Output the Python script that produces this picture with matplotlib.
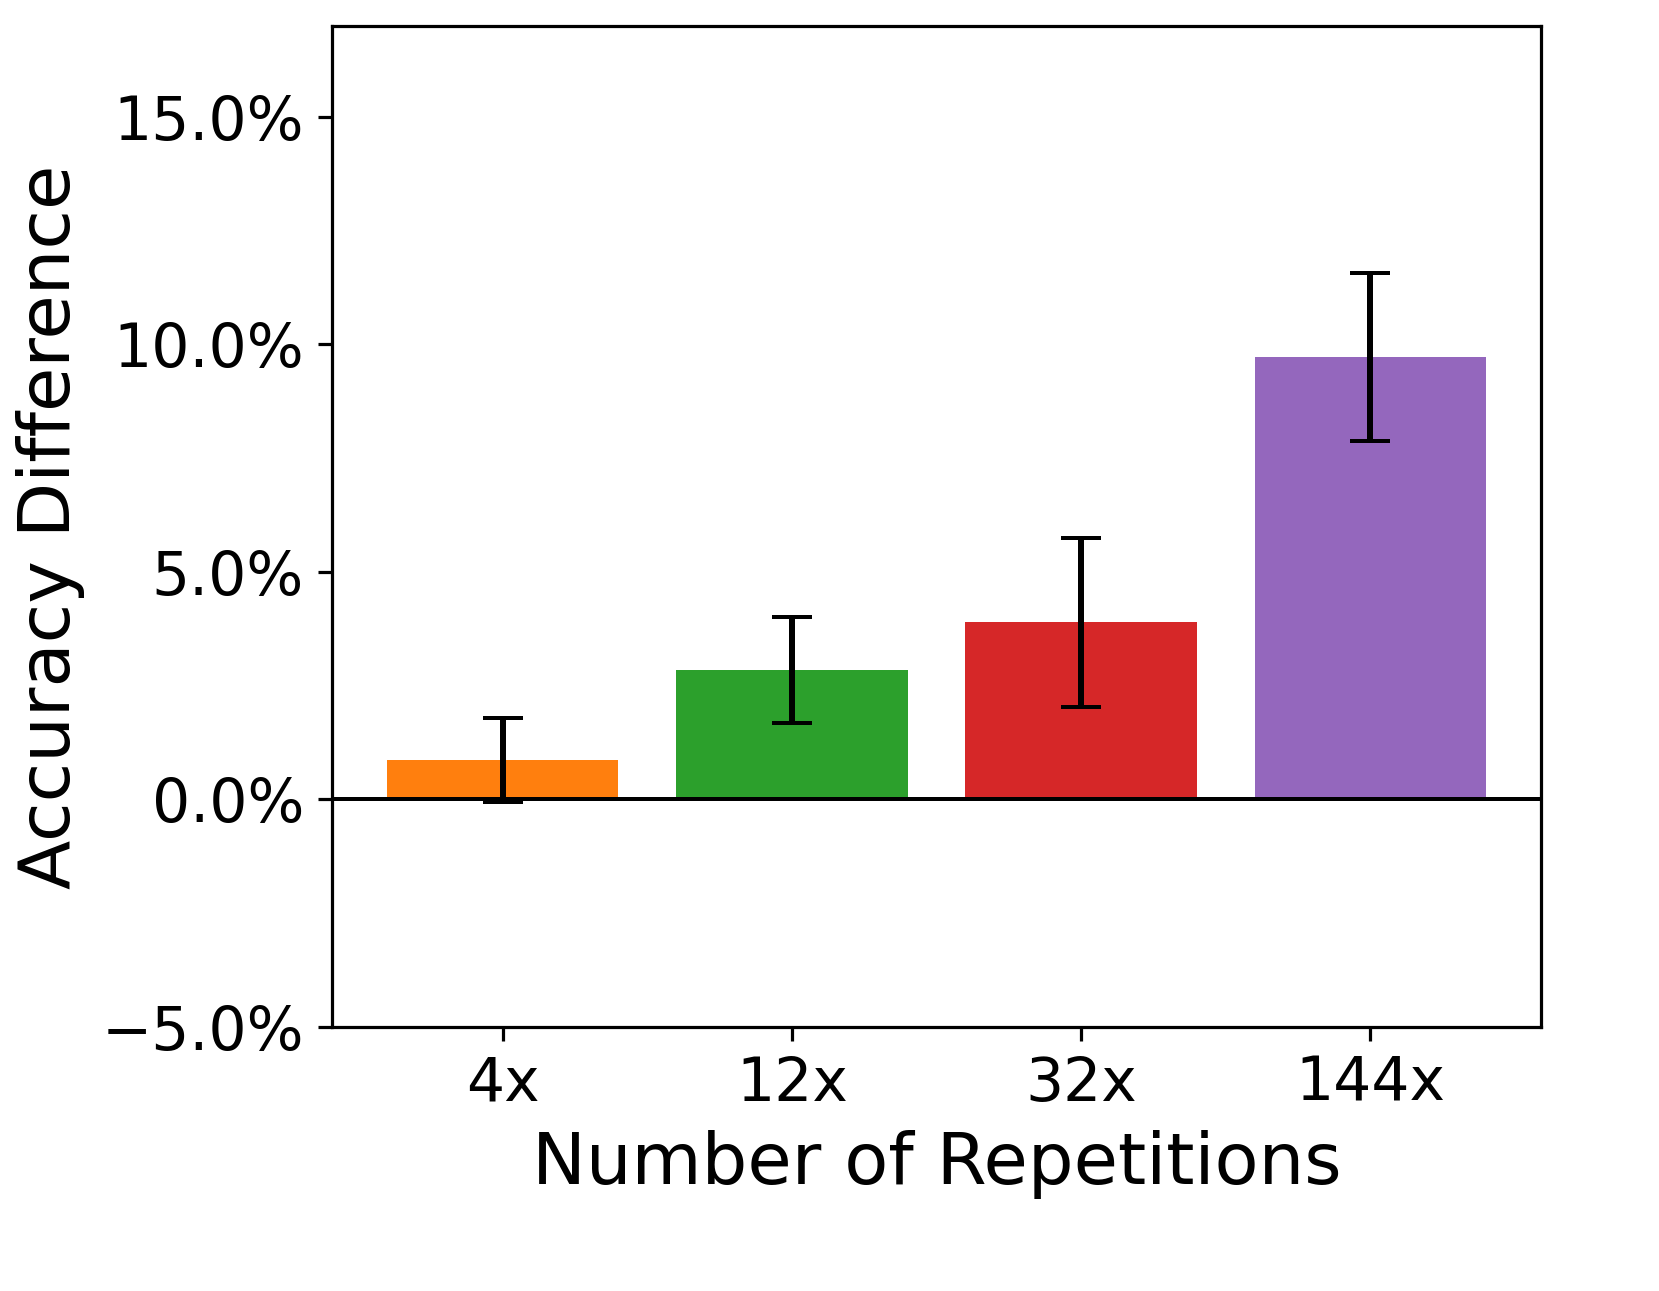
import matplotlib
matplotlib.use("Agg")
import matplotlib.pyplot as plt
from matplotlib.ticker import PercentFormatter, MultipleLocator

# data (accuracy difference, %)
repetitions = ["4x", "12x", "32x", "144x"]
mean_diff = [0.86, 2.85, 3.89, 9.72]
err_diff = [0.92, 1.17, 1.86, 1.84]
bar_colors = ["tab:orange", "tab:green", "tab:red", "tab:purple"]

DPI = 288
fig, ax = plt.subplots(figsize=(1659 / DPI, 1291 / DPI), dpi=DPI)
fig.subplots_adjust(left=0.2001, right=0.9289, top=0.9799, bottom=0.2045)

x = range(len(repetitions))
ax.bar(x, mean_diff, width=0.8, color=bar_colors, yerr=err_diff,
       error_kw=dict(ecolor="black", elinewidth=1.5, capsize=5, capthick=1))
ax.axhline(0, color="black", linewidth=1)

ax.set_xticks(list(x))
ax.set_xticklabels(repetitions)
ax.set_ylim(-5, 17)
ax.yaxis.set_major_locator(MultipleLocator(5))
ax.yaxis.set_major_formatter(PercentFormatter(decimals=1))
ax.tick_params(labelsize=15)

ax.set_xlabel("Number of Repetitions", fontsize=18)
ax.set_ylabel("Accuracy Difference", fontsize=18)

fig.savefig("out.png", dpi=DPI)
